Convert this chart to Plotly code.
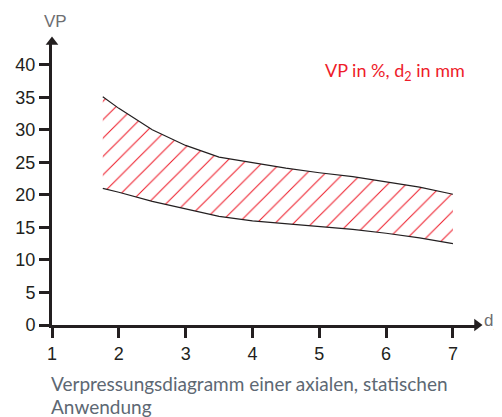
import plotly.graph_objects as go

d2_values = [1.76, 2.0, 2.5, 3.0, 3.5, 4.0, 4.5, 5.0, 5.5, 6.0, 6.5, 7.0]
vp_upper = [35.1, 33.3, 30.0, 27.6, 25.8, 24.9, 24.1, 23.4, 22.8, 22.0, 21.2, 20.1]
vp_lower = [21.0, 20.4, 19.0, 17.8, 16.7, 16.0, 15.6, 15.2, 14.7, 14.1, 13.4, 12.5]
x_ticks = [1, 2, 3, 4, 5, 6, 7]
y_ticks = [0, 5, 10, 15, 20, 25, 30, 35, 40]

dark = "#231f20"
red = "#ee1c2a"
gray = "#5d6873"

fig = go.Figure()
fig.add_trace(go.Scatter(x=d2_values, y=vp_lower, mode="lines",
                         line=dict(color=dark, width=1.2), showlegend=False))
fig.add_trace(go.Scatter(x=d2_values, y=vp_upper, mode="lines", fill="tonexty",
                         fillcolor="white",
                         fillpattern=dict(shape="/", fgcolor=red, bgcolor="white",
                                          fgopacity=1, size=13, solidity=0.08),
                         line=dict(color=dark, width=1.2), showlegend=False))

x_end = 7.36
y_end = 43.5
# arrow heads
fig.add_trace(go.Scatter(x=[x_end], y=[0], mode="markers", cliponaxis=False,
                         marker=dict(symbol="triangle-right", size=11, color=dark),
                         showlegend=False))
fig.add_trace(go.Scatter(x=[1], y=[y_end], mode="markers", cliponaxis=False,
                         marker=dict(symbol="triangle-up", size=11, color=dark),
                         showlegend=False))

fig.update_xaxes(range=[1, x_end], tickvals=x_ticks, ticks="outside", ticklen=10,
                 tickwidth=3, tickcolor=dark, showline=True, linewidth=3, linecolor=dark,
                 showgrid=False, zeroline=False, automargin=False,
                 tickfont=dict(family="Liberation Sans", size=18, color=dark))
fig.update_yaxes(range=[0, y_end], tickvals=y_ticks, ticks="outside", ticklen=10,
                 tickwidth=3, tickcolor=dark, showline=True, linewidth=3, linecolor=dark,
                 showgrid=False, zeroline=False, automargin=False,
                 tickfont=dict(family="Liberation Sans", size=18, color=dark))

annotations = [
    dict(xref="paper", yref="paper", x=0.0094, y=1.074, text="VP", showarrow=False,
         xanchor="center", yanchor="middle",
         font=dict(family="Liberation Sans", size=17, color="#6d6e71")),
    dict(xref="paper", yref="paper", x=1.011, y=0.012, text="d<sub>2</sub>", showarrow=False,
         xanchor="left", yanchor="middle",
         font=dict(family="Liberation Sans", size=17, color="#6d6e71")),
    dict(xref="paper", yref="paper", x=0.977, y=0.894, text="VP in %, d<sub>2</sub> in mm",
         showarrow=False, xanchor="right", yanchor="middle",
         font=dict(family="Lato", size=18, color=red)),
    dict(xref="paper", yref="paper", x=-0.007, y=-0.205,
         text="Verpressungsdiagramm einer axialen, statischen", showarrow=False,
         xanchor="left", yanchor="middle",
         font=dict(family="Lato", size=19, color=gray)),
    dict(xref="paper", yref="paper", x=-0.007, y=-0.288, text="Anwendung", showarrow=False,
         xanchor="left", yanchor="middle",
         font=dict(family="Lato", size=19, color=gray)),
]

fig.update_layout(width=494, height=409, margin=dict(l=44, r=25, t=34, b=92, autoexpand=False),
                  paper_bgcolor="white", plot_bgcolor="white",
                  annotations=annotations, showlegend=False)
fig.write_html("out.html")
